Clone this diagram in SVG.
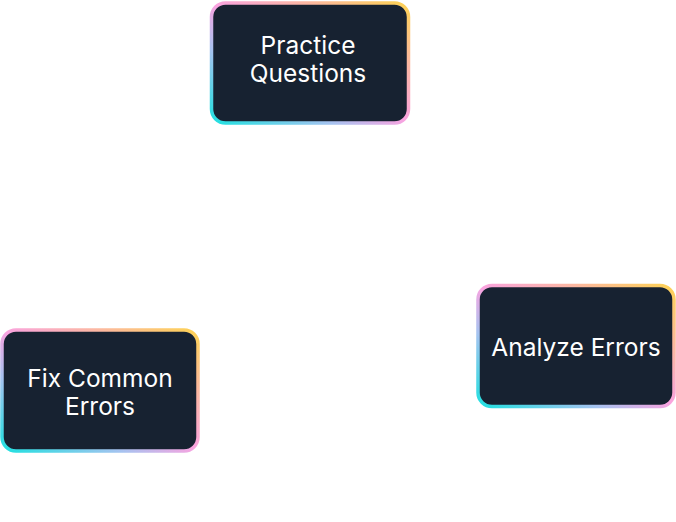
<svg xmlns="http://www.w3.org/2000/svg" width="676" height="522" viewBox="0 0 676 522">
<style>
.box{fill:#172231;stroke:url(#edge);stroke-width:3.5}
.lbl{fill:#ffffff;font-family:Inter,"Noto Sans","Liberation Sans",sans-serif;font-size:24.5px;font-weight:400;text-anchor:middle}
.conn{fill:none;stroke:#ffffff;stroke-width:2;stroke-dasharray:6 4}
</style>
<defs>
<linearGradient id="edge" x1="0" y1="1" x2="1" y2="0">
<stop offset="0" stop-color="#1fe0e0"/>
<stop offset="0.3" stop-color="#a5c3f0"/>
<stop offset="0.5" stop-color="#f9a3e0"/>
<stop offset="0.75" stop-color="#fcb8a0"/>
<stop offset="1" stop-color="#fdd254"/>
</linearGradient>
<marker id="arr" viewBox="0 0 10 10" refX="9" refY="5" markerWidth="8" markerHeight="8" orient="auto">
<path d="M0,0 L10,5 L0,10 z" fill="#ffffff"/>
</marker>
</defs>
<rect width="676" height="522" fill="#ffffff"/>
<g id="connectors">
<path class="conn" d="M458,88 Q530,150 556,262" marker-end="url(#arr)"/>
<path class="conn" d="M507,425 Q420,515 225,503" marker-end="url(#arr)"/>
<path class="conn" d="M68,283 Q70,140 190,70" marker-end="url(#arr)"/>
</g>
<g id="practice">
<rect class="box" x="211.5" y="3" width="197" height="120" rx="14"/>
<text class="lbl" x="308" y="54">Practice</text>
<text class="lbl" x="308" y="82">Questions</text>
</g>
<g id="analyze">
<rect class="box" x="478" y="285.5" width="196" height="121" rx="14"/>
<text class="lbl" x="576" y="356">Analyze Errors</text>
</g>
<g id="fix">
<rect class="box" x="2" y="330" width="196" height="121" rx="14"/>
<text class="lbl" x="100" y="387">Fix Common</text>
<text class="lbl" x="100" y="415">Errors</text>
</g>
</svg>
